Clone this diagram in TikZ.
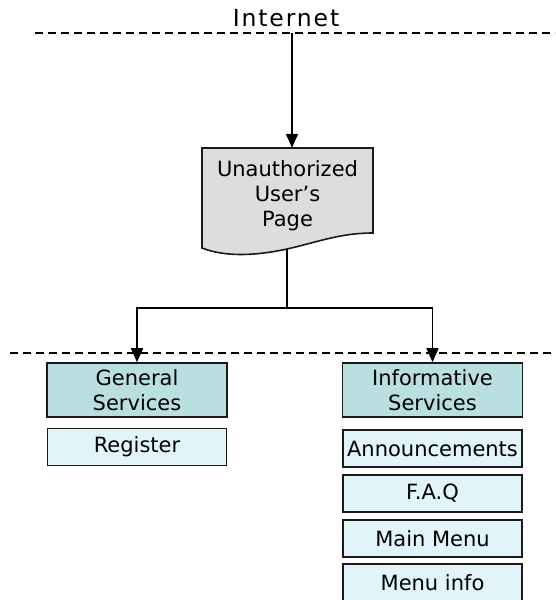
\documentclass[tikz,border=0pt]{standalone}
\usepackage{fontspec}
\setmainfont{DejaVu Sans}
\newfontfamily\inetfont[LetterSpace=8]{DejaVu Sans}
\usetikzlibrary{arrows.meta}
\definecolor{hdr}{HTML}{B9DFE1}
\definecolor{itm}{HTML}{E1F4FA}
\definecolor{docg}{HTML}{DDDDDD}
\definecolor{edge}{HTML}{1A1A1A}
\begin{document}
\begin{tikzpicture}[x=1pt,y=-1pt,
  lbl/.style={font=\fontsize{21}{25}\selectfont, align=center, inner sep=0pt},
  hdrbox/.style={lbl, draw=edge, line width=1.6pt, fill=hdr, minimum width=180pt, minimum height=54pt},
  itmbox/.style={lbl, draw=edge, line width=1.6pt, fill=itm, minimum width=179pt, minimum height=37pt},
  sep/.style={dash pattern=on 8pt off 5pt, line width=1.3pt},
  conn/.style={line width=1.6pt, -{Triangle[width=12pt,length=14pt]}},
  plain/.style={line width=1.6pt}]
\useasboundingbox (0,0) rectangle (555,600);
\clip (0,0) rectangle (555,600);
% separators
\draw[sep] (35,33) -- (555,33);
\draw[sep] (10,353) -- (555,353);
% Internet
\node[inner sep=0pt, font=\inetfont\fontsize{23.5}{26}\selectfont] (inet) at (286,18) {Internet};
\coordinate (ia) at (292,33);
% document shape
\draw[draw=edge, line width=1.6pt, fill=docg] (202,148) -- (373,148) -- (373,233)
  .. controls (340,233) and (318,242) .. (287,249)
  .. controls (255,256) and (225,257) .. (202,248) -- cycle;
\node[lbl, minimum width=171pt, minimum height=100pt] (doc) at (287.5,198) {};
\node[lbl] (doctext) at (287.5,196) {Unauthorized\\User’s\\Page};
\coordinate (docbot) at (287,249);
\coordinate (fork) at (287,308);
% boxes
\node[hdrbox] (gen) at (137,390) {General\\Services};
\node[itmbox] (reg) at (137,447) {Register};
\node[hdrbox] (inf) at (432.5,390) {Informative\\Services};
\node[itmbox] (ann) at (432.5,448.5) {Announcements};
\node[itmbox] (faq) at (432.5,493.5) {F.A.Q};
\node[itmbox] (mm) at (432.5,538.5) {Main Menu};
\node[itmbox] (mi) at (432.5,582.5) {Menu info};
% connectors
\draw[conn] (ia) -- (ia |- doc.north);
\draw[plain] (docbot) -- (fork);
\draw[conn] (fork) -| (gen.north);
\draw[conn] (fork) -| (inf.north);
\end{tikzpicture}
\end{document}
